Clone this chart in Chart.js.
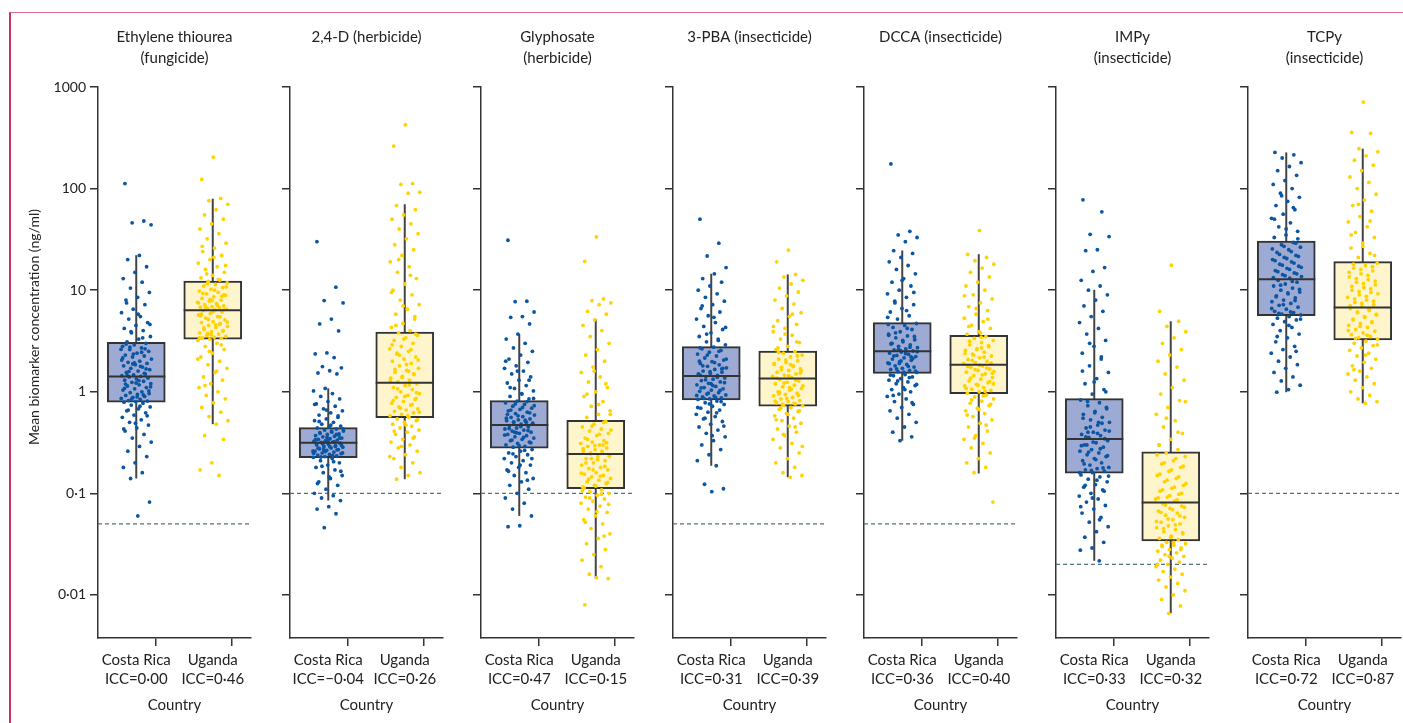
<!DOCTYPE html>
<html>
<head>
<meta charset="utf-8">
<script src="https://cdn.jsdelivr.net/npm/chart.js@4.4.1/dist/chart.umd.min.js"></script>
<style>
html, body { margin: 0; padding: 0; background: #fff; overflow: hidden; width: 1403px; height: 723px; }
#frame { position: absolute; left: 9px; top: 12px; width: 1420px; height: 730px; border-left: 2px solid #c4345f; border-top: 1.5px solid #dd6c8d; z-index: 2; pointer-events: none; }
canvas { position: absolute; top: 0; z-index: 1; }
</style>
</head>
<body>
<div id="frame"></div>
<script>
// panel titles and x labels
const titles = [
    ['Ethylene thiourea', '(fungicide)'],
    ['2,4-D (herbicide)', ''],
    ['Glyphosate', '(herbicide)'],
    ['3-PBA (insecticide)', ''],
    ['DCCA (insecticide)', ''],
    ['IMPy', '(insecticide)'],
    ['TCPy', '(insecticide)']
];
const iccCR = ['0·00', '−0·04', '0·47', '0·31', '0·36', '0·33', '0·72'];
const iccUG = ['0·46', '0·26', '0·15', '0·39', '0·40', '0·32', '0·87'];
const yTicks = [0.01, 0.1, 1, 10, 100, 1000];
const yTickLabels = ['0·01', '0·1', '1', '10', '100', '1000'];
const yTitle = 'Mean biomarker concentration (ng/ml)';

// limit of detection (dashed line)
const lod = [0.05, 0.1, 0.1, 0.05, 0.05, 0.02, 0.1];

// box plot summaries (ng/ml)
const crLow  = [0.14, 0.085, 0.06, 0.187, 0.33, 0.0217, 0.99];
const crQ1   = [0.79, 0.224, 0.279, 0.83, 1.52, 0.158, 5.62];
const crMed  = [1.41, 0.315, 0.471, 1.43, 2.5, 0.343, 12.8];
const crQ3   = [3.07, 0.443, 0.817, 2.78, 4.8, 0.855, 30.4];
const crHigh = [22.1, 1.08, 3.71, 14.5, 24.6, 10.1, 227];
const ugLow  = [0.48, 0.138, 0.0145, 0.144, 0.157, 0.0066, 0.77];
const ugQ1   = [3.29, 0.556, 0.111, 0.72, 0.958, 0.034, 3.24];
const ugMed  = [6.35, 1.23, 0.244, 1.35, 1.85, 0.0815, 6.74];
const ugQ3   = [12.3, 3.86, 0.524, 2.52, 3.6, 0.257, 19.1];
const ugHigh = [79.5, 70.3, 5.18, 14.3, 22.6, 4.95, 247];

// individual participants (approx.)
const etuCR = [112, 48, 46, 44, 22, 20, 17, 15, 13, 12, 10.5, 9.5, 8.5, 8, 7.2, 6.5, 6, 5.5, 5.2, 4.8, 4.5, 4.2, 4, 3.8, 3.5, 3.3, 3.1,
    3.0, 2.9, 2.8, 2.7, 2.6, 2.5, 2.4, 2.3, 2.25, 2.2, 2.1, 2.0, 1.95, 1.9, 1.85, 1.8, 1.75, 1.7, 1.65, 1.6, 1.55, 1.5, 1.47, 1.44, 1.42,
    1.4, 1.37, 1.34, 1.3, 1.27, 1.24, 1.2, 1.17, 1.14, 1.1, 1.07, 1.04, 1.0, 0.98, 0.96, 0.94, 0.92, 0.9, 0.88, 0.86, 0.84, 0.82, 0.81, 0.8, 0.79,
    0.77, 0.74, 0.71, 0.68, 0.65, 0.62, 0.59, 0.56, 0.53, 0.5, 0.47, 0.44, 0.41, 0.38, 0.35, 0.32, 0.29, 0.26, 0.23, 0.2, 0.18, 0.16, 0.14, 0.082, 0.06,
    2.95, 2.65, 2.35, 2.05, 1.78, 1.58, 1.38, 1.22, 1.08, 0.93, 0.85, 1.12, 1.29, 1.46, 1.68, 1.92, 2.15, 2.45, 2.75, 1.02, 0.89, 1.19, 1.52, 1.88, 2.62,
    0.72, 0.66, 0.58, 0.49, 0.43, 3.4, 3.9, 4.6, 5.8, 7.5];
const etuUG = [204, 123, 80, 76, 70, 62, 55, 50, 45, 40, 36, 32, 29, 26, 24, 22, 20, 18.5, 17, 16, 15, 14, 13.2, 12.6,
    12.2, 11.8, 11.4, 11, 10.6, 10.2, 9.8, 9.5, 9.2, 8.9, 8.6, 8.3, 8, 7.8, 7.6, 7.4, 7.2, 7, 6.9, 6.8, 6.7, 6.6, 6.5, 6.4,
    6.3, 6.1, 5.9, 5.7, 5.5, 5.3, 5.1, 4.9, 4.8, 4.7, 4.5, 4.4, 4.3, 4.1, 4.0, 3.9, 3.8, 3.7, 3.6, 3.5, 3.45, 3.4, 3.35, 3.3,
    3.2, 3.0, 2.8, 2.6, 2.4, 2.2, 2.0, 1.85, 1.7, 1.55, 1.4, 1.3, 1.2, 1.1, 1.0, 0.92, 0.85, 0.78, 0.7, 0.63, 0.57, 0.52, 0.48, 0.37, 0.34, 0.2, 0.17, 0.15,
    11.6, 10.8, 10.0, 9.3, 8.7, 8.1, 7.5, 7.1, 6.75, 6.45, 6.15, 5.8, 5.45, 5.15, 4.85, 4.55, 4.25, 3.95, 3.65, 3.4, 12.8, 14.5, 17.5, 21, 27,
    2.9, 2.5, 2.1, 1.6, 1.15, 9.0, 7.9, 5.6, 4.6, 3.75];
const d24CR = [30, 10.7, 7.9, 7.5, 5.2, 4.65, 3.97, 2.41, 2.36, 2.17, 1.77, 1.72, 1.61, 1.53, 1.5, 1.08, 1.02, 0.96, 0.9, 0.85, 0.8, 0.76, 0.72, 0.68, 0.65, 0.62, 0.59, 0.56, 0.54, 0.52, 0.5, 0.48, 0.46, 0.45,
    0.44, 0.43, 0.42, 0.41, 0.4, 0.39, 0.385, 0.38, 0.37, 0.365, 0.36, 0.35, 0.345, 0.34, 0.335, 0.33, 0.325, 0.32, 0.318,
    0.312, 0.305, 0.3, 0.295, 0.29, 0.285, 0.28, 0.275, 0.27, 0.265, 0.26, 0.255, 0.25, 0.246, 0.242, 0.238, 0.234, 0.23, 0.226,
    0.22, 0.21, 0.2, 0.19, 0.18, 0.17, 0.16, 0.15, 0.14, 0.13, 0.12, 0.11, 0.1, 0.095, 0.09, 0.085, 0.074, 0.07, 0.063, 0.046,
    0.43, 0.41, 0.395, 0.375, 0.355, 0.338, 0.322, 0.308, 0.298, 0.288, 0.278, 0.268, 0.258, 0.248, 0.236, 0.228, 0.35, 0.33, 0.31, 0.29, 0.27, 0.25,
    0.47, 0.51, 0.58, 0.66, 0.75, 0.205, 0.185, 0.165, 0.145, 0.125, 0.38, 0.32, 0.26];
const d24UG = [425, 262, 112, 110, 92, 90, 68, 62, 55, 50, 45, 40, 36, 32, 28, 25, 22, 19, 17, 15, 13, 11.5, 10, 9, 8, 7.2, 6.5, 5.8, 5.2, 4.7, 4.3, 4.0,
    3.8, 3.6, 3.4, 3.2, 3.0, 2.8, 2.65, 2.5, 2.35, 2.2, 2.1, 2.0, 1.9, 1.8, 1.7, 1.62, 1.55, 1.48, 1.42, 1.36, 1.3, 1.25,
    1.2, 1.15, 1.1, 1.05, 1.0, 0.96, 0.92, 0.88, 0.84, 0.8, 0.77, 0.74, 0.71, 0.68, 0.66, 0.64, 0.62, 0.6, 0.58, 0.56,
    0.54, 0.52, 0.5, 0.48, 0.46, 0.44, 0.42, 0.4, 0.38, 0.36, 0.34, 0.32, 0.3, 0.28, 0.26, 0.24, 0.22, 0.2, 0.18, 0.16, 0.15, 0.138,
    3.7, 3.3, 2.9, 2.6, 2.3, 2.05, 1.85, 1.66, 1.5, 1.38, 1.27, 1.17, 1.07, 0.98, 0.9, 0.82, 0.75, 0.69, 0.63, 0.58,
    4.5, 5.5, 7, 9.5, 14, 20, 0.53, 0.47, 0.41, 0.35, 0.29, 0.23, 1.6, 2.4, 0.86];
const glyCR = [31, 7.8, 7.7, 6.1, 5.5, 5.4, 4.65, 3.7, 3.3, 3.0, 2.7, 2.5, 2.3, 2.1, 1.95, 1.8, 1.7, 1.6, 1.5, 1.4, 1.3, 1.22, 1.15, 1.08, 1.02, 0.96, 0.9, 0.85,
    0.81, 0.78, 0.75, 0.72, 0.69, 0.67, 0.65, 0.63, 0.61, 0.59, 0.57, 0.56, 0.54, 0.53, 0.52, 0.51, 0.5, 0.49, 0.48,
    0.465, 0.45, 0.44, 0.43, 0.42, 0.41, 0.4, 0.39, 0.38, 0.37, 0.36, 0.35, 0.34, 0.33, 0.32, 0.31, 0.3, 0.29, 0.285,
    0.27, 0.26, 0.25, 0.24, 0.23, 0.22, 0.21, 0.2, 0.19, 0.18, 0.17, 0.16, 0.15, 0.14, 0.13, 0.12, 0.11, 0.1, 0.09, 0.08, 0.07, 0.06, 0.048, 0.047,
    0.8, 0.76, 0.73, 0.7, 0.66, 0.62, 0.58, 0.55, 0.525, 0.505, 0.485, 0.455, 0.435, 0.415, 0.395, 0.375, 0.355, 0.335, 0.315, 0.295,
    0.6, 0.5, 0.4, 0.86, 0.95, 1.1, 1.3, 1.6, 2.0, 0.265, 0.245, 0.22, 0.19, 0.165, 0.135];
const glyUG = [33.5, 19.2, 8.2, 7.9, 7.5, 7.2, 6.2, 5.8, 5.1, 4.5, 4.0, 3.5, 3.0, 2.6, 2.3, 2.0, 1.75, 1.55, 1.4, 1.25, 1.1, 1.0, 0.9, 0.8, 0.72, 0.65, 0.6, 0.56,
    0.51, 0.48, 0.45, 0.43, 0.41, 0.39, 0.37, 0.35, 0.33, 0.32, 0.31, 0.3, 0.29, 0.28, 0.27, 0.26, 0.255, 0.25,
    0.24, 0.23, 0.22, 0.21, 0.2, 0.19, 0.18, 0.175, 0.17, 0.16, 0.155, 0.15, 0.145, 0.14, 0.135, 0.13, 0.125, 0.12, 0.115,
    0.108, 0.104, 0.1, 0.096, 0.092, 0.088, 0.084, 0.08, 0.075, 0.07, 0.065, 0.06, 0.055, 0.05, 0.045, 0.04, 0.036, 0.032, 0.028, 0.025, 0.022, 0.019, 0.016, 0.0145, 0.0148, 0.008,
    0.5, 0.46, 0.42, 0.38, 0.34, 0.315, 0.295, 0.275, 0.26, 0.245, 0.232, 0.215, 0.2, 0.185, 0.17, 0.158, 0.148, 0.138, 0.128, 0.118, 0.113,
    0.3, 0.22, 0.6, 0.75, 0.95, 1.2, 1.6, 0.106, 0.098, 0.09, 0.078, 0.066, 0.052, 0.038];
const pbaCR = [50, 29, 21.7, 16.7, 14.5, 13, 12, 11, 10, 9.2, 8.5, 7.8, 7.2, 6.6, 6.1, 5.6, 5.2, 4.8, 4.4, 4.1, 3.8, 3.5, 3.3, 3.1, 2.9,
    2.75, 2.65, 2.55, 2.45, 2.35, 2.25, 2.15, 2.05, 1.98, 1.9, 1.84, 1.78, 1.72, 1.66, 1.6, 1.56, 1.52, 1.48, 1.45,
    1.41, 1.37, 1.33, 1.29, 1.25, 1.21, 1.17, 1.13, 1.1, 1.07, 1.04, 1.01, 0.98, 0.95, 0.93, 0.91, 0.89, 0.87, 0.85, 0.84,
    0.81, 0.78, 0.75, 0.72, 0.69, 0.66, 0.63, 0.6, 0.57, 0.54, 0.51, 0.48, 0.45, 0.42, 0.39, 0.36, 0.33, 0.3, 0.27, 0.24, 0.21, 0.187, 0.123, 0.111, 0.104,
    2.7, 2.5, 2.3, 2.1, 1.94, 1.8, 1.68, 1.58, 1.5, 1.39, 1.31, 1.23, 1.15, 1.09, 1.03, 0.97, 0.92, 0.88, 0.86,
    1.7, 1.2, 2.0, 3.2, 3.7, 4.3, 5.4, 7.0, 0.8, 0.76, 0.7, 0.62, 0.55, 0.46, 0.37, 1.45];
const pbaUG = [24.8, 19, 14.3, 13.5, 12.5, 11.5, 10.5, 9.6, 8.8, 8, 7.3, 6.6, 6, 5.5, 5, 4.6, 4.2, 3.9, 3.6, 3.3, 3.05, 2.8, 2.6,
    2.48, 2.4, 2.3, 2.2, 2.1, 2.02, 1.94, 1.86, 1.8, 1.74, 1.68, 1.62, 1.56, 1.5, 1.46, 1.42, 1.38,
    1.32, 1.28, 1.24, 1.2, 1.16, 1.12, 1.08, 1.04, 1.0, 0.97, 0.94, 0.91, 0.88, 0.85, 0.82, 0.8, 0.78, 0.76, 0.74, 0.73,
    0.7, 0.67, 0.64, 0.61, 0.58, 0.55, 0.52, 0.49, 0.46, 0.43, 0.4, 0.37, 0.34, 0.31, 0.28, 0.25, 0.22, 0.2, 0.18, 0.16, 0.15, 0.144,
    2.45, 2.25, 2.05, 1.9, 1.77, 1.65, 1.53, 1.44, 1.36, 1.3, 1.22, 1.14, 1.06, 0.99, 0.92, 0.86, 0.81, 0.77, 0.75,
    1.6, 1.1, 2.7, 3.1, 3.7, 4.4, 5.8, 0.69, 0.65, 0.6, 0.53, 0.45, 0.38, 0.29, 1.85, 0.95];
const dccaCR = [175, 38, 35, 33, 30, 24.5, 23, 21, 19, 17.5, 16, 14.5, 13, 12, 11, 10, 9.2, 8.5, 7.8, 7.2, 6.6, 6.1, 5.6, 5.2,
    4.7, 4.5, 4.3, 4.1, 3.9, 3.7, 3.55, 3.4, 3.25, 3.1, 3.0, 2.9, 2.8, 2.72, 2.64, 2.58, 2.52,
    2.46, 2.4, 2.34, 2.28, 2.22, 2.16, 2.1, 2.04, 1.98, 1.92, 1.86, 1.8, 1.75, 1.7, 1.66, 1.62, 1.58, 1.55,
    1.48, 1.44, 1.4, 1.35, 1.3, 1.25, 1.2, 1.15, 1.1, 1.05, 1.0, 0.95, 0.9, 0.85, 0.8, 0.75, 0.7, 0.65, 0.6, 0.55, 0.5, 0.45, 0.4, 0.36, 0.33,
    4.6, 4.2, 3.8, 3.5, 3.2, 2.95, 2.75, 2.6, 2.48, 2.37, 2.25, 2.13, 2.01, 1.89, 1.78, 1.68, 1.6, 1.56,
    3.0, 2.2, 1.9, 5.4, 6.3, 7.5, 9.5, 12.5, 1.46, 1.38, 1.28, 1.18, 1.05, 0.92, 0.78, 2.55, 3.6];
const dccaUG = [38.6, 22.5, 21, 19.5, 18, 16.5, 15, 13.5, 12, 11, 10, 9, 8.2, 7.5, 6.9, 6.3, 5.8, 5.3, 4.9, 4.5, 4.2, 3.9, 3.7,
    3.5, 3.35, 3.2, 3.05, 2.9, 2.78, 2.66, 2.55, 2.45, 2.35, 2.25, 2.16, 2.08, 2.0, 1.94, 1.89,
    1.8, 1.74, 1.68, 1.62, 1.56, 1.5, 1.44, 1.38, 1.33, 1.28, 1.23, 1.18, 1.14, 1.1, 1.06, 1.03, 1.0, 0.97,
    0.93, 0.89, 0.85, 0.81, 0.77, 0.73, 0.69, 0.65, 0.61, 0.57, 0.53, 0.49, 0.45, 0.41, 0.37, 0.34, 0.31, 0.28, 0.25, 0.22, 0.2, 0.18, 0.16, 0.082,
    3.45, 3.15, 2.85, 2.6, 2.4, 2.2, 2.04, 1.91, 1.83, 1.77, 1.71, 1.65, 1.59, 1.47, 1.36, 1.26, 1.16, 1.08, 1.01,
    2.3, 1.52, 3.8, 4.4, 5.2, 6.6, 8.8, 0.91, 0.83, 0.75, 0.67, 0.59, 0.47, 0.35, 1.2, 2.7];
const impCR = [77.5, 59, 35.5, 33.7, 25, 24.5, 16.7, 15.3, 12.5, 11, 10, 9, 8, 7, 6.2, 5.5, 4.8, 4.2, 3.7, 3.2, 2.8, 2.4, 2.1, 1.8, 1.55, 1.35, 1.2, 1.05, 0.95,
    0.83, 0.78, 0.73, 0.68, 0.64, 0.6, 0.56, 0.53, 0.5, 0.47, 0.44, 0.42, 0.4, 0.38, 0.37, 0.355,
    0.33, 0.315, 0.3, 0.285, 0.27, 0.26, 0.25, 0.24, 0.23, 0.22, 0.21, 0.2, 0.19, 0.18, 0.175, 0.17, 0.165, 0.16,
    0.152, 0.145, 0.138, 0.13, 0.122, 0.115, 0.108, 0.1, 0.094, 0.088, 0.082, 0.076, 0.07, 0.064, 0.058, 0.052, 0.047, 0.042, 0.037, 0.033, 0.029, 0.0276, 0.0217,
    0.8, 0.7, 0.62, 0.55, 0.49, 0.45, 0.41, 0.39, 0.36, 0.345, 0.32, 0.295, 0.275, 0.255, 0.235, 0.215, 0.195, 0.178, 0.168, 0.16,
    0.5, 0.3, 1.0, 1.25, 1.6, 2.2, 3.0, 0.148, 0.135, 0.12, 0.105, 0.09, 0.074, 0.055, 0.4];
const impUG = [17.6, 6.2, 4.95, 4.4, 3.9, 3.4, 3.0, 2.6, 2.3, 2.0, 1.75, 1.5, 1.3, 1.1, 0.95, 0.82, 0.7, 0.6, 0.52, 0.45, 0.39, 0.34, 0.3, 0.27,
    0.25, 0.23, 0.21, 0.195, 0.18, 0.165, 0.15, 0.14, 0.13, 0.12, 0.112, 0.105, 0.098, 0.092, 0.088, 0.084,
    0.079, 0.075, 0.071, 0.067, 0.064, 0.061, 0.058, 0.055, 0.052, 0.05, 0.048, 0.046, 0.044, 0.042, 0.04, 0.038, 0.036, 0.035,
    0.033, 0.032, 0.031, 0.03, 0.029, 0.028, 0.027, 0.026, 0.025, 0.024, 0.023, 0.022, 0.021, 0.02, 0.019, 0.018, 0.017, 0.016, 0.015, 0.014, 0.013, 0.012, 0.011, 0.01, 0.009, 0.0078, 0.0066,
    0.24, 0.22, 0.2, 0.185, 0.17, 0.155, 0.145, 0.135, 0.125, 0.115, 0.108, 0.1, 0.095, 0.09, 0.086, 0.077, 0.073, 0.069, 0.065, 0.06,
    0.056, 0.053, 0.049, 0.045, 0.041, 0.037, 0.3, 0.4, 0.55, 0.8, 0.033, 0.031, 0.028, 0.024, 0.02];
const tcpCR = [227, 215, 200, 180, 165, 150, 135, 120, 110, 100, 90, 82, 75, 68, 62, 56, 51, 46, 42, 38, 35, 33,
    29.5, 28, 26.5, 25, 23.5, 22, 21, 20, 19, 18, 17.2, 16.4, 15.6, 14.8, 14.2, 13.6, 13.1,
    12.5, 12, 11.5, 11, 10.5, 10, 9.6, 9.2, 8.8, 8.4, 8, 7.7, 7.4, 7.1, 6.8, 6.5, 6.2, 6, 5.8, 5.7,
    5.5, 5.3, 5.1, 4.9, 4.6, 4.3, 4, 3.7, 3.4, 3.1, 2.8, 2.6, 2.4, 2.2, 2, 1.85, 1.7, 1.55, 1.4, 1.28, 1.16, 1.05, 0.99,
    29, 27, 25.5, 24, 22.5, 21.5, 20.5, 19.5, 18.5, 17.6, 16.8, 16, 15.2, 14.5, 13.9, 13.3, 12.2, 11.2, 10.2, 9.4, 8.6, 7.9, 7.2, 6.6, 6.1, 5.9,
    32, 40, 50, 65, 85, 5.2, 4.5, 3.5, 2.5];
const tcpUG = [711, 357, 350, 247, 230, 210, 190, 170, 150, 130, 115, 100, 88, 77, 68, 60, 53, 47, 42, 37, 33, 29, 26, 23, 21,
    18.5, 17.5, 16.5, 15.5, 14.5, 13.5, 12.7, 12, 11.3, 10.6, 10, 9.5, 9, 8.5, 8, 7.6, 7.2, 6.9,
    6.6, 6.3, 6.0, 5.7, 5.4, 5.1, 4.9, 4.7, 4.5, 4.3, 4.1, 3.95, 3.8, 3.65, 3.5, 3.4, 3.3,
    3.15, 3.0, 2.85, 2.7, 2.55, 2.4, 2.25, 2.1, 1.95, 1.8, 1.7, 1.6, 1.5, 1.4, 1.3, 1.2, 1.1, 1.0, 0.92, 0.85, 0.8, 0.77,
    18, 17, 16, 15, 14, 13, 12.3, 11.6, 10.9, 10.3, 9.7, 9.2, 8.7, 8.2, 7.8, 7.4, 7.0, 6.5, 6.1, 5.8, 5.5, 5.2, 4.8, 4.4, 4.0, 3.6, 3.35,
    22, 27, 35, 48, 70, 2.9, 2.3, 1.65];

const pointsCR = [etuCR, d24CR, glyCR, pbaCR, dccaCR, impCR, tcpCR];
const pointsUG = [etuUG, d24UG, glyUG, pbaUG, dccaUG, impUG, tcpUG];

const blueDot = '#0b56a2';
const yellowDot = '#ffd200';
const blueBox = '#9daad4';
const yellowBox = '#fff5cc';
const ink = '#333';

Chart.defaults.font.family = 'Lato, sans-serif';
Chart.defaults.color = '#222';

// spread the dots sideways around the box centre
const jitter = (i, phase) => (((i * 0.6180339887 + phase) % 1) - 0.5) * 0.4;

const yTitlePlugin = {
    id: 'yTitle',
    afterDraw(chart) {
        const ctx = chart.ctx;
        ctx.save();
        ctx.translate(34, 327);
        ctx.rotate(-Math.PI / 2);
        ctx.font = '14px Lato';
        ctx.fillStyle = '#222';
        ctx.textAlign = 'center';
        ctx.textBaseline = 'middle';
        ctx.fillText(yTitle, 0, 0);
        ctx.restore();
    }
};

function makePanel(k) {
    const axisLeft = Math.round(98 + 191.6 * k);
    const yw = k === 0 ? 98 : 20;
    const canvas = document.createElement('canvas');
    canvas.width = yw + 153 + 8;
    canvas.height = 723;
    canvas.style.left = (axisLeft - yw) + 'px';
    document.body.appendChild(canvas);

    const half = 0.38;
    new Chart(canvas, {
        type: 'scatter',
        data: {
            datasets: [
                {
                    type: 'line',
                    data: [{ x: 0, y: lod[k] }, { x: 2, y: lod[k] }],
                    borderColor: '#56707e',
                    borderWidth: 1.2,
                    borderDash: [4, 3],
                    pointRadius: 0,
                    order: 5
                },
                {
                    type: 'line',
                    data: [{ x: 0.5, y: crLow[k] }, { x: 0.5, y: crHigh[k] }],
                    borderColor: '#444', borderWidth: 2, pointRadius: 0, order: 4
                },
                {
                    type: 'line',
                    data: [{ x: 1.5, y: ugLow[k] }, { x: 1.5, y: ugHigh[k] }],
                    borderColor: '#444', borderWidth: 2, pointRadius: 0, order: 4
                },
                {
                    type: 'bar',
                    data: [{ x: 0.5, y: [crQ1[k], crQ3[k]] }, { x: 1.5, y: [ugQ1[k], ugQ3[k]] }],
                    backgroundColor: [blueBox, yellowBox],
                    borderColor: ink,
                    borderWidth: 2,
                    borderSkipped: false,
                    barThickness: 58,
                    order: 3
                },
                {
                    data: pointsCR[k].map((v, i) => ({ x: 0.5 + jitter(i, 0.13), y: v })),
                    backgroundColor: blueDot,
                    borderWidth: 0,
                    pointRadius: 1.9,
                    order: 2
                },
                {
                    data: pointsUG[k].map((v, i) => ({ x: 1.5 + jitter(i, 0.52), y: v })),
                    backgroundColor: yellowDot,
                    borderWidth: 0,
                    pointRadius: 1.9,
                    order: 2
                },
                {
                    type: 'line',
                    data: [{ x: 0.5 - half, y: crMed[k] }, { x: 0.5 + half, y: crMed[k] }],
                    borderColor: ink, borderWidth: 2, pointRadius: 0, order: 1
                },
                {
                    type: 'line',
                    data: [{ x: 1.5 - half, y: ugMed[k] }, { x: 1.5 + half, y: ugMed[k] }],
                    borderColor: ink, borderWidth: 2, pointRadius: 0, order: 1
                }
            ]
        },
        options: {
            responsive: false,
            animation: false,
            events: [],
            layout: { padding: { top: 0, right: 8, bottom: 0, left: 0 } },
            plugins: {
                legend: { display: false },
                tooltip: { enabled: false },
                title: {
                    display: true,
                    text: titles[k],
                    fullSize: false,
                    color: '#222',
                    font: { size: 15, weight: 'normal', lineHeight: 1.4 },
                    padding: { top: 26.5, bottom: 18.5 }
                }
            },
            scales: {
                x: {
                    type: 'linear',
                    min: 0,
                    max: 2,
                    offset: false,
                    afterBuildTicks: s => { s.ticks = [0, 0.5, 1, 1.5, 2].map(v => ({ value: v })); },
                    afterFit: s => { s.height = 85; },
                    border: { display: true, color: ink, width: 1.5 },
                    grid: {
                        drawOnChartArea: false,
                        drawTicks: true,
                        tickLength: 8,
                        lineWidth: 1.5,
                        color: c => (c.tick && c.tick.value % 1 === 0) ? ink : 'rgba(0,0,0,0)'
                    },
                    ticks: {
                        autoSkip: false,
                        maxRotation: 0,
                        padding: 4,
                        color: '#222',
                        font: { size: 15, lineHeight: 1.3 },
                        callback: v => v === 0.5 ? ['Costa Rica', 'ICC=' + iccCR[k]]
                            : v === 1.5 ? ['Uganda', 'ICC=' + iccUG[k]] : ''
                    },
                    title: {
                        display: true,
                        text: 'Country',
                        color: '#222',
                        font: { size: 15, lineHeight: 1.2 },
                        padding: { top: 0, bottom: 9 }
                    }
                },
                y: {
                    type: 'logarithmic',
                    min: 0.00377,
                    max: 1000,
                    afterBuildTicks: s => { s.ticks = yTicks.map(v => ({ value: v })); },
                    afterFit: s => { s.width = yw; },
                    border: { display: true, color: ink, width: 1.5 },
                    grid: { drawOnChartArea: false, drawTicks: true, tickLength: 8, lineWidth: 1.5, color: ink },
                    ticks: {
                        display: k === 0,
                        padding: 4,
                        color: '#222',
                        font: { size: 14 },
                        callback: (v, i) => yTickLabels[i]
                    }
                }
            }
        },
        plugins: k === 0 ? [yTitlePlugin] : []
    });
}

for (let k = 0; k < 7; k++) makePanel(k);
</script>
</body>
</html>
